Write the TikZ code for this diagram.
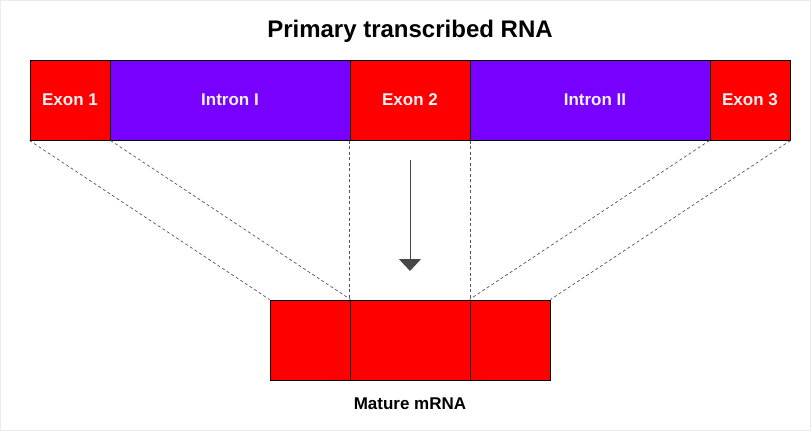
\documentclass[tikz,border=0pt]{standalone}
\usepackage{fontspec}
\setmainfont{Liberation Sans}
\usepackage{tikz}
\usetikzlibrary{arrows.meta}
\definecolor{exonred}{HTML}{FF0000}
\definecolor{intronviolet}{HTML}{7700FF}
\definecolor{labelwhite}{HTML}{F2F2F2}
\definecolor{guidegray}{HTML}{555555}
\tikzset{exonbox/.style={shape=rectangle, fill=exonred, draw=black, line width=1pt, inner sep=0pt, minimum height=80pt, text=labelwhite, font=\fontsize{17}{20}\selectfont\bfseries},
intronbox/.style={exonbox, fill=intronviolet},
guide/.style={draw=guidegray, line width=0.7pt, dash pattern=on 3pt off 2.5pt}}

\begin{document}
\begin{tikzpicture}[x=1pt,y=-1pt]
\useasboundingbox (0,0) rectangle (811,431);
\draw[color=gray!15, line width=1pt] (0.5,0.5) rectangle (810.5,430.5);
\node[font=\fontsize{24}{28}\selectfont\bfseries] (title) at (410,31) {Primary transcribed RNA};
\node[style=exonbox, minimum width=80pt] (e1) at (70,100) {Exon 1};
\node[style=intronbox, minimum width=240pt] (i1) at (230,100) {Intron I};
\node[style=exonbox, minimum width=120pt] (e2) at (410,100) {Exon 2};
\node[style=intronbox, minimum width=240pt] (i2) at (590,100) {\hspace*{10pt}Intron II};
\node[style=exonbox, minimum width=80pt] (e3) at (750,100) {Exon 3};
\node[style=exonbox, minimum width=80pt] (m1) at (310,340) {};
\node[style=exonbox, minimum width=120pt] (m2) at (410,340) {};
\node[style=exonbox, minimum width=80pt] (m3) at (510,340) {};
\node[font=\fontsize{17}{20}\selectfont\bfseries] (mature) at (410,404) {Mature mRNA};
\draw [style=guide] (e1.south west) -- (m1.north west);
\draw [style=guide] (e1.south east) -- (m1.north east);
\draw [style=guide] (e2.south west) -- (m2.north west);
\draw [style=guide] (e2.south east) -- (m2.north east);
\draw [style=guide] (e3.south west) -- (m3.north west);
\draw [style=guide] (e3.south east) -- (m3.north east);
\coordinate (splice) at (410,160);
\coordinate (tip) at (410,271);
\draw [-{Triangle[width=22pt,length=12pt]}, color=black!72, line width=1pt] (splice) -- (tip);
\end{tikzpicture}
\end{document}
